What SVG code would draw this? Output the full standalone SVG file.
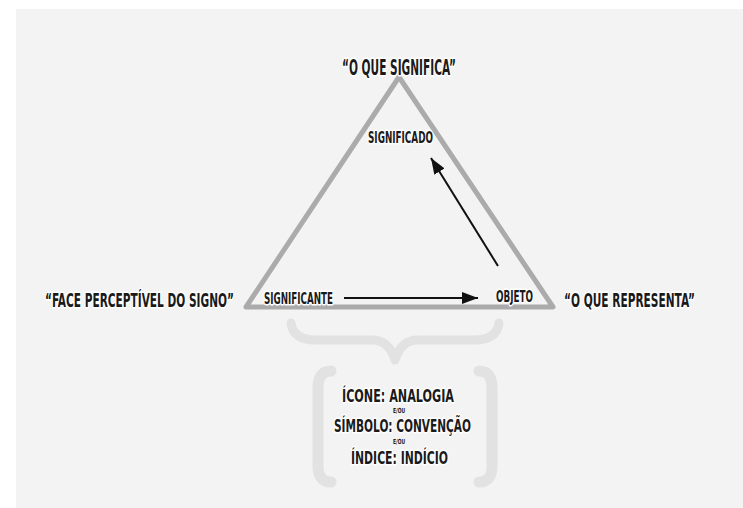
<svg xmlns="http://www.w3.org/2000/svg" width="743" height="508" viewBox="0 0 743 508">
<defs>
<style>
.t{font-family:"DejaVu Sans Condensed","Liberation Sans Narrow","Liberation Sans",sans-serif;font-weight:bold;fill:#1a1a1a;}
.lbl{stroke:#ffffff;stroke-width:3;paint-order:stroke;stroke-linejoin:round;}
.deco{fill:none;stroke:#e2e2e2;stroke-linecap:round;stroke-linejoin:round;}
.con{stroke:#111;stroke-width:2;fill:none;}
</style>
<marker id="ah2" viewBox="0 0 16 12" refX="16" refY="6" markerWidth="16" markerHeight="12" markerUnits="userSpaceOnUse" orient="auto">
<path d="M0,0 L16,6 L0,12 Z" fill="#111"/>
</marker>
</defs>
<rect x="0" y="0" width="743" height="508" fill="#ffffff"/>
<rect x="16" y="9" width="727" height="499" fill="#f3f3f3"/>

<g id="triangle">
<polygon points="399,77 553,307 246,307" fill="none" stroke="#ababab" stroke-width="5" stroke-linejoin="round"/>
</g>

<g id="brace">
<path class="deco" stroke-width="9" d="M291,323 Q293,340 316,340 L372,340 Q389,340 395,360 Q401,340 418,340 L474,340 Q497,340 499,323"/>
<path class="deco" stroke-width="11" d="M331,371 Q318,371 318,388 L318,466 Q318,482 331,482"/>
<path class="deco" stroke-width="11" d="M479,371 Q492,371 492,388 L492,466 Q492,482 479,482"/>
</g>

<g id="connectors">
<line class="con" x1="344" y1="298" x2="478" y2="298" marker-end="url(#ah2)"/>
<line class="con" x1="498" y1="266" x2="431" y2="158" marker-end="url(#ah2)"/>
</g>

<g id="node-significa">
<text class="t lbl" transform="translate(342,75) scale(0.5,1)" font-size="21.5" textLength="228" lengthAdjust="spacingAndGlyphs">“O QUE SIGNIFICA”</text>
</g>
<g id="node-significado">
<text class="t lbl" transform="translate(368,143) scale(0.5,1)" font-size="15" textLength="130" lengthAdjust="spacingAndGlyphs">SIGNIFICADO</text>
</g>
<g id="node-face">
<text class="t lbl" transform="translate(45,307) scale(0.5,1)" font-size="19.5" textLength="378" lengthAdjust="spacingAndGlyphs">“FACE PERCEPTÍVEL DO SIGNO”</text>
</g>
<g id="node-significante">
<text class="t lbl" transform="translate(264,304) scale(0.5,1)" font-size="15.5" textLength="138" lengthAdjust="spacingAndGlyphs">SIGNIFICANTE</text>
</g>
<g id="node-objeto">
<text class="t lbl" transform="translate(496,302) scale(0.5,1)" font-size="15.5" textLength="74" lengthAdjust="spacingAndGlyphs">OBJETO</text>
</g>
<g id="node-representa">
<text class="t lbl" transform="translate(564,307) scale(0.5,1)" font-size="20" textLength="262" lengthAdjust="spacingAndGlyphs">“O QUE REPRESENTA”</text>
</g>
<g id="node-tipos">
<text class="t lbl" transform="translate(342,402) scale(0.5,1)" font-size="17" textLength="224" lengthAdjust="spacingAndGlyphs">ÍCONE: ANALOGIA</text>
<text class="t" transform="translate(393,412.5) scale(0.5,1)" font-size="7" textLength="24" lengthAdjust="spacingAndGlyphs">E/OU</text>
<text class="t lbl" transform="translate(334,432) scale(0.5,1)" font-size="18" textLength="274" lengthAdjust="spacingAndGlyphs">SÍMBOLO: CONVENÇÃO</text>
<text class="t" transform="translate(393,444) scale(0.5,1)" font-size="7" textLength="24" lengthAdjust="spacingAndGlyphs">E/OU</text>
<text class="t lbl" transform="translate(351,464) scale(0.5,1)" font-size="17.5" textLength="194" lengthAdjust="spacingAndGlyphs">ÍNDICE: INDÍCIO</text>
</g>
</svg>
